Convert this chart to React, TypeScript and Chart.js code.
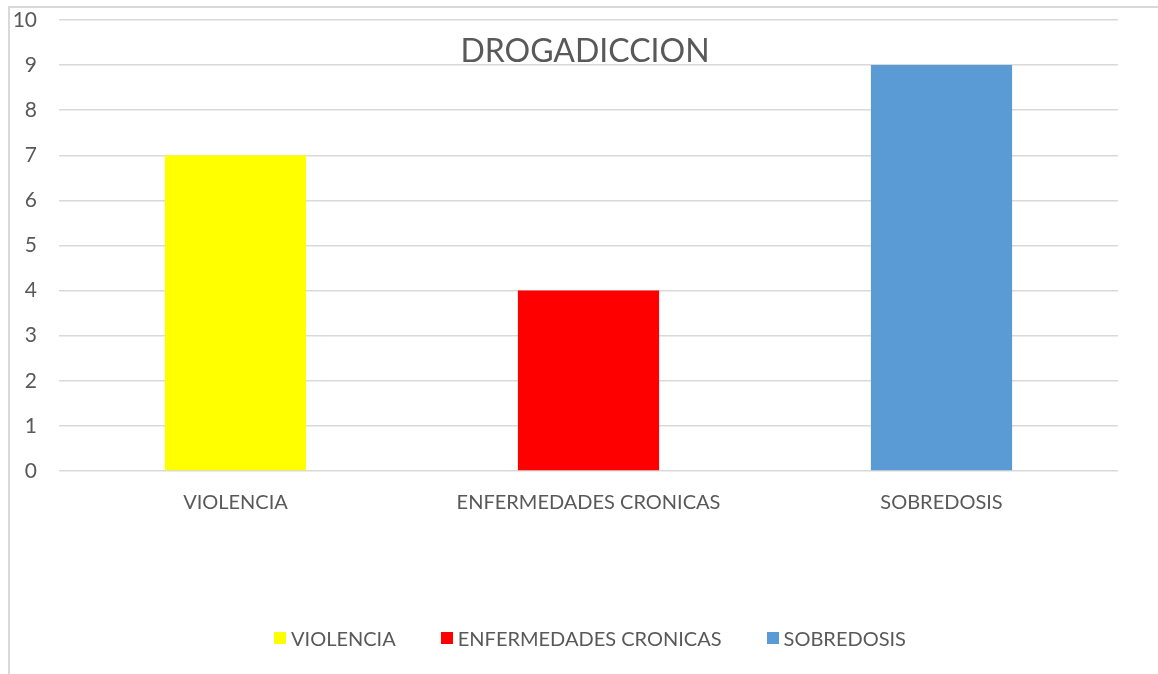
import React, { useEffect, useRef } from "react";
import { Chart, registerables } from "chart.js";

Chart.register(...registerables);

const categories = ["VIOLENCIA", "ENFERMEDADES CRONICAS", "SOBREDOSIS"];
const values = [7, 4, 9];
const barColors = ["#FFFF00", "#FF0000", "#5B9BD5"];
const yMin = 0;
const yMax = 10;
const yStep = 1;
const chartTitle = "DROGADICCION";

const FONT = "Lato, 'Open Sans', sans-serif";
const TEXT = "#595959";
const GRID = "#d9d9d9";

export default function App() {
  const ref = useRef<HTMLCanvasElement>(null);

  useEffect(() => {
    const chart = new Chart(ref.current!, {
      type: "bar",
      data: {
        labels: categories,
        datasets: [
          {
            label: chartTitle,
            data: values,
            backgroundColor: barColors,
            barPercentage: 0.4,
            categoryPercentage: 1,
          },
        ],
      },
      options: {
        animation: false,
        responsive: false,
        maintainAspectRatio: false,
        layout: { padding: { left: 0, right: 40, top: 20, bottom: 159 } },
        plugins: {
          legend: { display: false },
          title: { display: false },
          tooltip: { enabled: false },
        },
        scales: {
          x: {
            grid: { display: false, drawTicks: false },
            border: { display: false },
            ticks: {
              color: TEXT,
              font: { family: FONT, size: 20 },
              padding: 20,
              maxRotation: 0,
            },
            afterFit: (s: any) => {
              s.paddingLeft = 0;
              s.paddingRight = 0;
              s.height = 44;
            },
          },
          y: {
            min: yMin,
            max: yMax,
            grid: { color: GRID, lineWidth: 1.5, drawTicks: false },
            border: { display: false },
            ticks: {
              stepSize: yStep,
              color: TEXT,
              font: { family: FONT, size: 21 },
              padding: 22,
            },
            afterFit: (s: any) => {
              s.width = 59;
              s.paddingTop = 0;
              s.paddingBottom = 0;
            },
          },
        },
      },
    });
    return () => chart.destroy();
  }, []);

  return (
    <div>
      <div
        style={{
          position: "fixed",
          left: 8,
          top: 6,
          right: 0,
          bottom: 0,
          borderLeft: `2px solid ${GRID}`,
          borderTop: `2px solid ${GRID}`,
        }}
      />
      <canvas
        ref={ref}
        width={1158}
        height={674}
        style={{ position: "fixed", left: 0, top: 0, width: 1158, height: 674 }}
      />
      <div
        style={{
          position: "fixed",
          left: 0,
          width: 1170,
          top: 34,
          textAlign: "center",
          fontFamily: FONT,
          fontSize: 32,
          lineHeight: 1,
          color: TEXT,
        }}
      >
        {chartTitle}
      </div>
      <div
        style={{
          position: "fixed",
          left: 0,
          width: 1180,
          top: 624,
          display: "flex",
          justifyContent: "center",
          gap: 45,
          fontFamily: FONT,
          fontSize: 20,
          lineHeight: "28px",
          color: TEXT,
        }}
      >
        {categories.map((c, i) => (
          <div key={c} style={{ display: "flex", alignItems: "center" }}>
            <span
              style={{
                display: "inline-block",
                width: 12,
                height: 12,
                background: barColors[i],
                marginRight: 5,
              }}
            />
            <span>{c}</span>
          </div>
        ))}
      </div>
    </div>
  );
}
